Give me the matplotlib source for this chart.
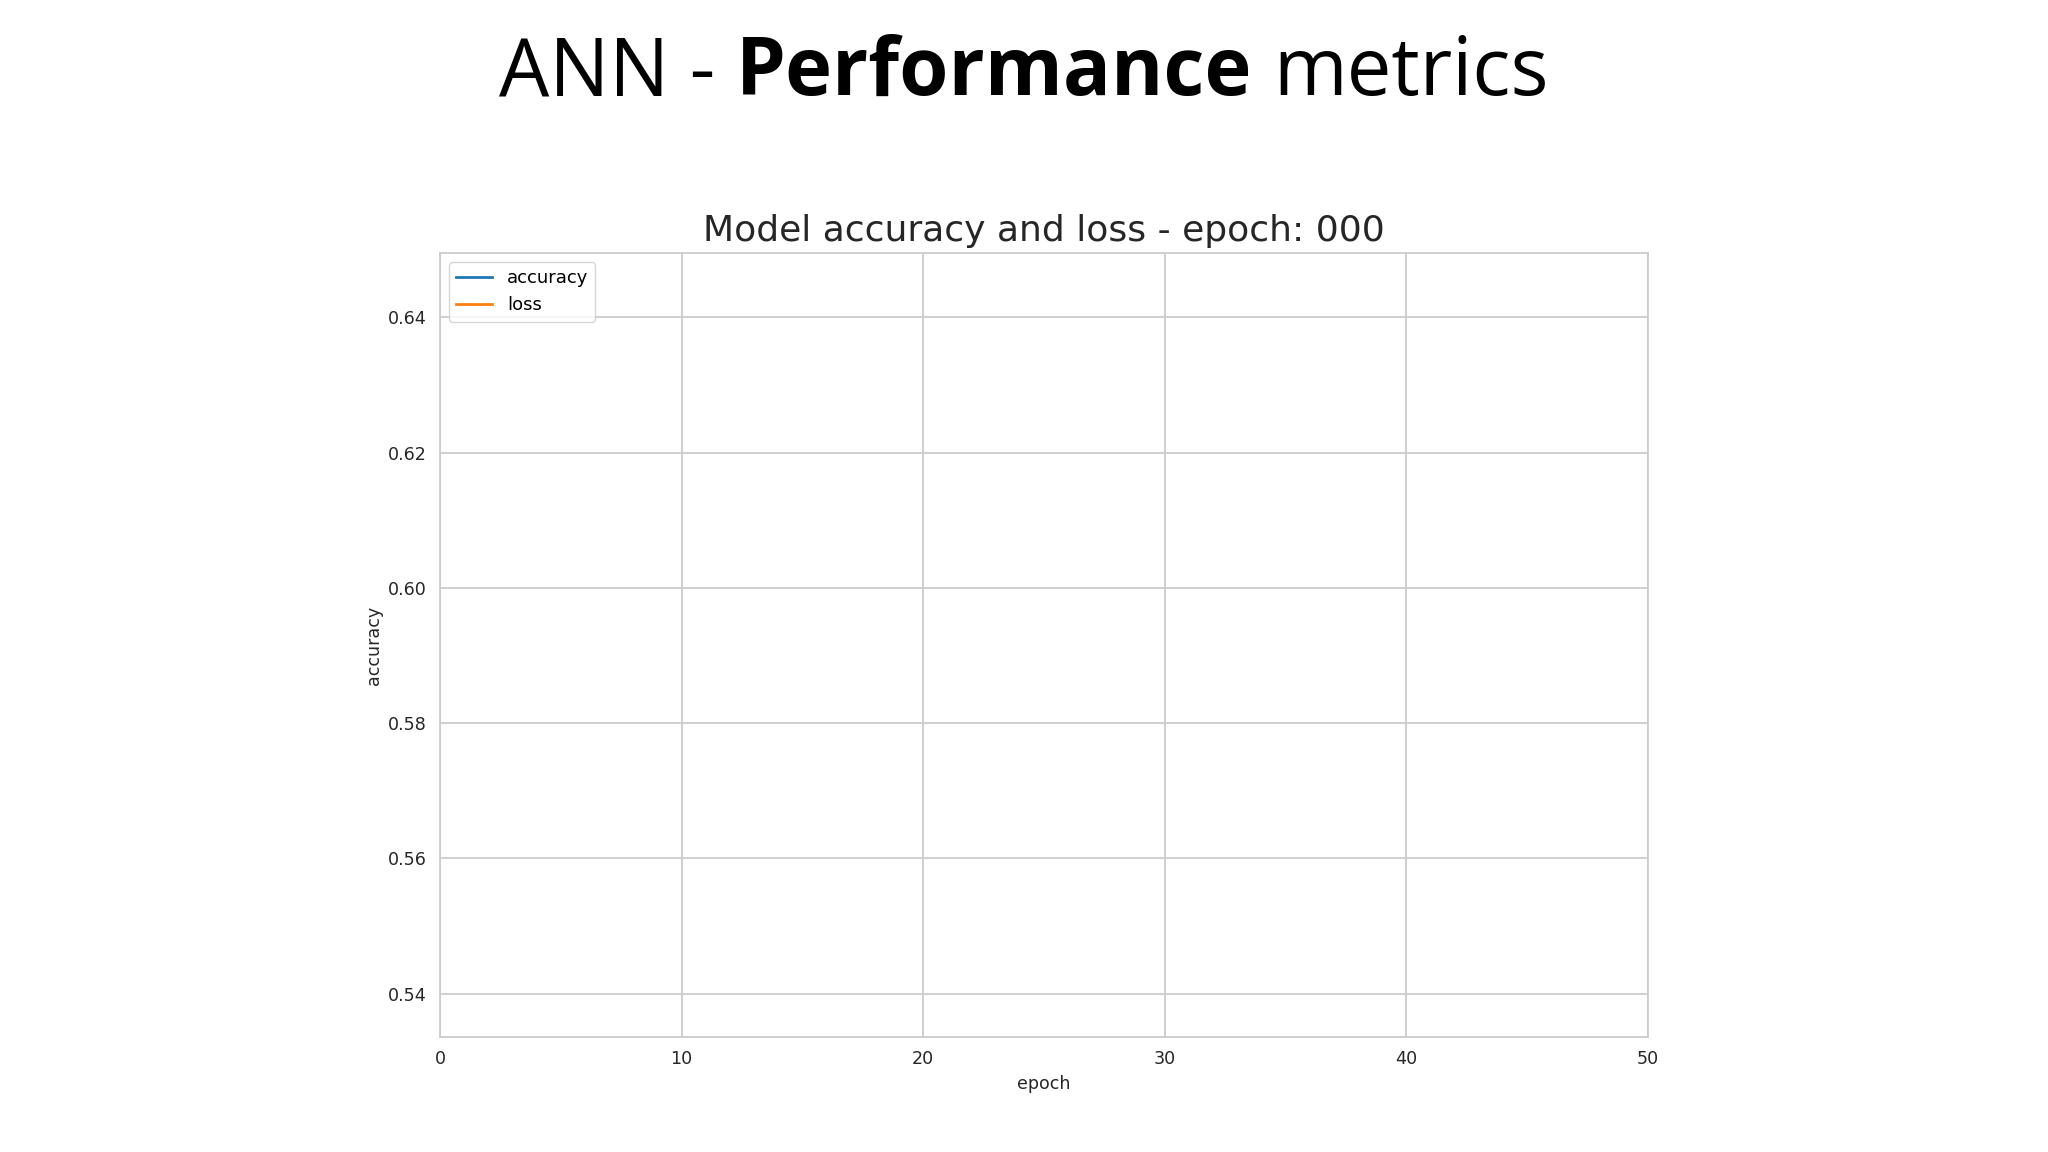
import matplotlib
matplotlib.use("Agg")
import matplotlib.pyplot as plt

# ---- data (nothing is drawn yet at epoch 000) ----
epochs = []
accuracy = []
loss = []
series_labels = ["accuracy", "loss"]
x_ticks = [0, 10, 20, 30, 40, 50]
y_ticks = [0.54, 0.56, 0.58, 0.60, 0.62, 0.64]
y_tick_labels = ["0.54", "0.56", "0.58", "0.60", "0.62", "0.64"]
x_limits = (0, 50)
y_limits = (0.5336, 0.6495)
slide_title_parts = [("ANN -", "normal"), ("Performance", "bold"), ("metrics", "normal")]
chart_title = "Model accuracy and loss - epoch: 000"
x_label = "epoch"
y_label = "accuracy"

# ---- styling ----
W, H = 2048, 1152
fig = plt.figure(figsize=(W / 100, H / 100), dpi=100)
fig.patch.set_facecolor("white")

grid_c = "#cccccc"
text_c = "#262626"
small = 12.6

ax = fig.add_axes([440 / W, 1 - 1037 / H, 1208 / W, 784 / H])
ax.set_facecolor("white")
ax.plot(epochs, accuracy, color="#1f77b4", lw=2, label=series_labels[0])
ax.plot(epochs, loss, color="#ff7f0e", lw=2, label=series_labels[1])
ax.set_xlim(*x_limits)
ax.set_ylim(*y_limits)
ax.set_xticks(x_ticks)
ax.set_yticks(y_ticks)
ax.set_yticklabels(y_tick_labels)
ax.grid(True, color=grid_c, lw=1.3)
ax.set_axisbelow(True)
for s in ax.spines.values():
    s.set_color(grid_c)
    s.set_linewidth(1.3)
ax.tick_params(axis="both", length=0, pad=9.4, labelsize=small, labelcolor=text_c)
ax.set_xlabel(x_label, fontsize=small, color=text_c, labelpad=5)
ax.set_ylabel(y_label, fontsize=small, color=text_c, labelpad=4)
ax.set_title(chart_title, fontsize=26, color=text_c, pad=8.6)
leg = ax.legend(loc="upper left", fontsize=13, frameon=True, fancybox=True,
                edgecolor=grid_c, facecolor="white", framealpha=0.8)
for line in leg.get_lines():
    line.set_linewidth(2)

# ---- slide title with mixed weights ----
renderer = fig.canvas.get_renderer()
fs = 57.3
fam = "Open Sans"


def text_width(s, weight):
    t = fig.text(0, 0, s, fontsize=fs, family=fam, weight=weight)
    w = t.get_window_extent(renderer).width
    t.remove()
    return w


space_w = text_width("A A", "normal") - text_width("AA", "normal")
widths = [text_width(s, w) for s, w in slide_title_parts]
total = sum(widths) + space_w * (len(widths) - 1)
x = 1024 - total / 2
baseline = 1 - 95 / H
for (s, w), wd in zip(slide_title_parts, widths):
    fig.text(x / W, baseline, s, fontsize=fs, family=fam, weight=w,
             color="black", va="baseline", ha="left")
    x += wd + space_w

fig.savefig("out.png", dpi=100, facecolor="white")
